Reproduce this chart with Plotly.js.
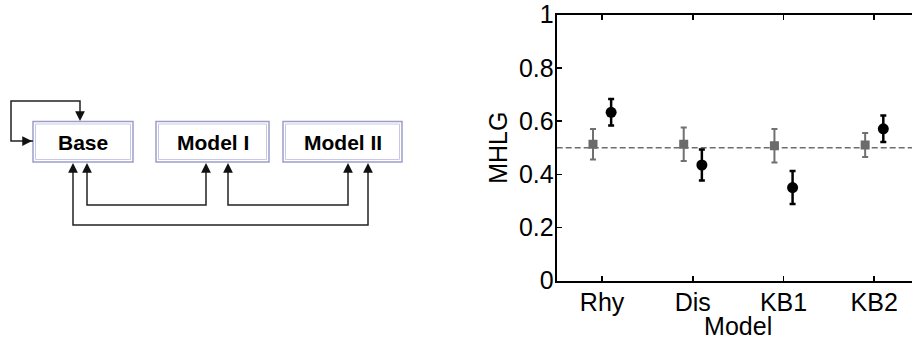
<!DOCTYPE html>
<html>
<head>
<meta charset="utf-8">
<script src="https://cdn.plot.ly/plotly-3.0.1.min.js"></script>
<style>
html,body{margin:0;padding:0;overflow:hidden;background:#fff;}
#chart{width:920px;height:340px;}
</style>
</head>
<body>
<div id="chart"></div>
<script>
// ---- chart data ----
var categories = ['Rhy', 'Dis', 'KB1', 'KB2'];
var baselineValues = [0.513, 0.513, 0.507, 0.510];
var baselineErrors = [0.057, 0.063, 0.063, 0.045];
var modelValues = [0.633, 0.435, 0.350, 0.571];
var modelErrors = [0.050, 0.058, 0.062, 0.050];
var referenceLevel = 0.5;
var yTickValues = [0, 0.2, 0.4, 0.6, 0.8, 1];
var yTickLabels = ['0', '0.2', '0.4', '0.6', '0.8', '1'];

// ---- diagram labels ----
var diagramBoxes = ['Base', 'Model I', 'Model II'];

var W = 920, H = 340;
var catPos = categories.map(function (c, i) { return i + 1; });
var offset = 0.1;

var traces = [
  {
    type: 'scatter', mode: 'markers',
    x: catPos.map(function (v) { return v - offset; }),
    y: baselineValues,
    error_y: { type: 'data', array: baselineErrors, visible: true, color: '#707070', thickness: 2, width: 3 },
    marker: { symbol: 'square', size: 9, color: '#6b6b6b' },
    showlegend: false, hoverinfo: 'skip'
  },
  {
    type: 'scatter', mode: 'markers',
    x: catPos.map(function (v) { return v + offset; }),
    y: modelValues,
    error_y: { type: 'data', array: modelErrors, visible: true, color: '#000', thickness: 2.5, width: 3 },
    marker: { symbol: 'circle', size: 11, color: '#000' },
    showlegend: false, hoverinfo: 'skip'
  }
];

// pixel -> paper helpers for the diagram
function px(x) { return x / W; }
function py(y) { return 1 - y / H; }

var shapes = [];
var annotations = [];

// reference dashed line
shapes.push({
  type: 'line', xref: 'x domain', yref: 'y', x0: 0, x1: 1, y0: referenceLevel, y1: referenceLevel,
  line: { color: '#6e6e6e', width: 1.5, dash: '6px,3px' }, layer: 'below'
});

// diagram boxes
var boxGeom = [[33, 133], [156, 269], [283, 402]];
var boxTop = 121.5, boxBot = 162;
boxGeom.forEach(function (g, i) {
  shapes.push({ type: 'rect', xref: 'paper', yref: 'paper',
    x0: px(g[0]), x1: px(g[1]), y0: py(boxBot), y1: py(boxTop),
    line: { color: '#9d9dcc', width: 1.5 }, fillcolor: 'rgba(0,0,0,0)' });
  shapes.push({ type: 'rect', xref: 'paper', yref: 'paper',
    x0: px(g[0] + 2.5), x1: px(g[1] - 2.5), y0: py(boxBot - 2.5), y1: py(boxTop + 2.5),
    line: { color: '#c8c8e4', width: 1 }, fillcolor: 'rgba(0,0,0,0)' });
  annotations.push({ xref: 'paper', yref: 'paper', x: px((g[0] + g[1]) / 2), y: py(142),
    text: diagramBoxes[i], showarrow: false, xanchor: 'center', yanchor: 'middle',
    font: { family: 'Liberation Sans, Arial, sans-serif', size: 21, color: '#000', weight: 'bold' } });
});

function pathOf(pts) {
  return pts.map(function (p, i) { return (i ? 'L' : 'M') + px(p[0]) + ',' + py(p[1]); }).join(' ');
}
function connector(pts) {
  shapes.push({ type: 'path', xref: 'paper', yref: 'paper', path: pathOf(pts),
    line: { color: '#222', width: 1.5 } });
}
function arrowHead(x, y, dx, dy) {
  annotations.push({ xref: 'paper', yref: 'paper', x: px(x), y: py(y), ax: dx, ay: dy,
    axref: 'pixel', ayref: 'pixel', text: '', showarrow: true, arrowhead: 2, arrowsize: 1.3,
    arrowwidth: 1.5, arrowcolor: '#111', standoff: 0 });
}

// self loop of Base
connector([[33, 141], [11, 141], [11, 101], [80, 101], [80, 118]]);
arrowHead(32, 141, -10, 0);
arrowHead(80, 121, 0, -10);

// Base <-> Model I
connector([[87, 168], [87, 205], [206, 205], [206, 168]]);
arrowHead(87, 163, 0, 10);
arrowHead(206, 163, 0, 10);
// Model I <-> Model II
connector([[228, 168], [228, 205], [348, 205], [348, 168]]);
arrowHead(228, 163, 0, 10);
arrowHead(348, 163, 0, 10);
// Base <-> Model II
connector([[73, 168], [73, 225], [368, 225], [368, 168]]);
arrowHead(73, 163, 0, 10);
arrowHead(368, 163, 0, 10);

var font = { family: 'Liberation Sans, Arial, Helvetica, sans-serif', size: 25, color: '#000' };

var layout = {
  width: W, height: H,
  margin: { l: 0, r: 0, t: 0, b: 0 },
  paper_bgcolor: '#fff', plot_bgcolor: '#fff',
  font: font,
  showlegend: false,
  xaxis: {
    domain: [556.7 / W, 919.6 / W],
    range: [0.5, 4.5],
    tickmode: 'array', tickvals: catPos, ticktext: categories,
    ticks: 'inside', ticklen: 5, tickwidth: 1.5, tickcolor: '#000',
    showline: true, linecolor: '#000', linewidth: 2, mirror: 'ticks',
    showgrid: false, zeroline: false,
    tickfont: font, ticklabelstandoff: -2,
    title: { text: 'Model', font: font, standoff: 0 }
  },
  yaxis: {
    domain: [(H - 280.7) / H, (H - 14.7) / H],
    range: [0, 1],
    tickmode: 'array', tickvals: yTickValues, ticktext: yTickLabels,
    ticks: 'inside', ticklen: 5, tickwidth: 1.5, tickcolor: '#000',
    showline: true, linecolor: '#000', linewidth: 2, mirror: 'ticks',
    showgrid: false, zeroline: false,
    tickfont: font, ticklabelstandoff: -4,
    title: { text: 'MHLG', font: font, standoff: 4 }
  },
  shapes: shapes,
  annotations: annotations
};

Plotly.newPlot('chart', traces, layout, { displayModeBar: false, staticPlot: true });
</script>
</body>
</html>
